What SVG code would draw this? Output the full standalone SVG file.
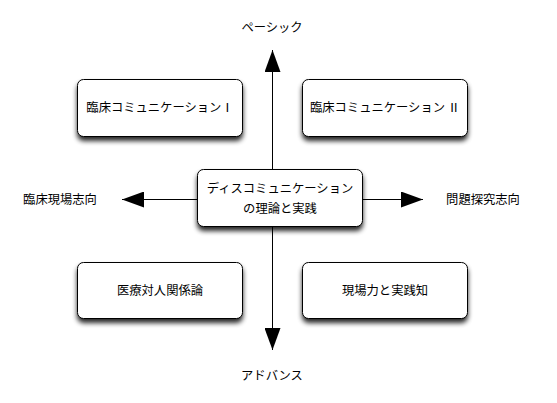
<svg xmlns="http://www.w3.org/2000/svg" width="557" height="403" viewBox="0 0 557 403">
<style>
.box{fill:#fff;stroke:#000;stroke-width:1;filter:url(#sh)}
.t{font-family:"Noto Sans CJK JP","Noto Sans",sans-serif;font-size:12.3px;fill:#000;text-anchor:middle}
.ln{stroke:#000;stroke-width:1;fill:none}
</style>
<defs>
<filter id="sh" x="-20%" y="-20%" width="140%" height="160%">
<feGaussianBlur in="SourceAlpha" stdDeviation="2.5"/>
<feOffset dx="0" dy="4" result="b"/>
<feComponentTransfer><feFuncA type="linear" slope="0.85"/></feComponentTransfer>
<feMerge><feMergeNode/><feMergeNode in="SourceGraphic"/></feMerge>
</filter>
<marker id="ah" viewBox="0 0 22 16" refX="22" refY="8" markerWidth="22" markerHeight="16" markerUnits="userSpaceOnUse" orient="auto">
<path d="M0,0 L22,8 L0,16 Z" fill="#000"/>
</marker>
</defs>
<g id="connectors">
<line class="ln" x1="272.5" y1="199" x2="272.5" y2="50" marker-end="url(#ah)"/>
<line class="ln" x1="272.5" y1="199" x2="272.5" y2="350" marker-end="url(#ah)"/>
<line class="ln" x1="272" y1="199.5" x2="122" y2="199.5" marker-end="url(#ah)"/>
<line class="ln" x1="272" y1="199.5" x2="423" y2="199.5" marker-end="url(#ah)"/>
</g>
<g id="n_basic"><text class="t" x="272" y="32">ペーシック</text></g>
<g id="n_advance"><text class="t" x="272" y="380">アドバンス</text></g>
<g id="n_clinical"><text class="t" x="60" y="204">臨床現場志向</text></g>
<g id="n_problem"><text class="t" x="483" y="204">問題探究志向</text></g>
<g id="n_cc1"><rect class="box" x="77.5" y="79.5" width="165" height="57" rx="6"/><text class="t" x="160" y="112">臨床コミュニケーションⅠ</text></g>
<g id="n_cc2"><rect class="box" x="302.5" y="79.5" width="165" height="57" rx="6"/><text class="t" x="385" y="112">臨床コミュニケーション Ⅱ</text></g>
<g id="n_center"><rect class="box" x="197.5" y="169.5" width="165" height="57" rx="6"/><text class="t" x="280" y="193">ディスコミュニケーション</text><text class="t" x="280" y="213">の理論と実践</text></g>
<g id="n_medical"><rect class="box" x="77.5" y="262.5" width="165" height="56" rx="6"/><text class="t" x="160" y="295">医療対人関係論</text></g>
<g id="n_field"><rect class="box" x="302.5" y="262.5" width="165" height="56" rx="6"/><text class="t" x="385" y="295">現場力と実践知</text></g>
</svg>
